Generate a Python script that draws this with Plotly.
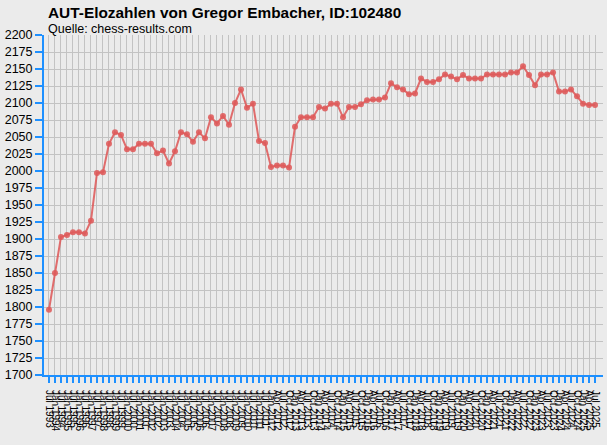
import plotly.graph_objects as go

months = ["Jan", "Apr", "Jul", "Oct"]
# Dates: semi-annual lists Jul 1993 .. Jul 2011, then quarterly Jan 2012 .. Jul 2025
dates = []
for y in range(1993, 2012):
    for m in ("Jan", "Jul"):
        if y == 1993 and m == "Jan":
            continue
        dates.append(f"{m} {y}")
for y in range(2012, 2026):
    for m in months:
        if y == 2025 and m == "Oct":
            continue
        dates.append(f"{m} {y}")

elo = [1796, 1850, 1903, 1906, 1910, 1910, 1908, 1927, 1997, 1998,
       2040, 2057, 2053, 2032, 2032, 2040, 2040, 2040, 2026, 2030,
       2011, 2029, 2057, 2054, 2043, 2057, 2048, 2079, 2070, 2081,
       2068, 2100, 2120, 2093, 2099, 2044, 2041, 2006, 2008, 2008,
       2005, 2065, 2079, 2079, 2079, 2094, 2092, 2099, 2099, 2079,
       2094, 2094, 2098, 2104, 2105, 2105, 2108, 2129, 2123, 2120,
       2113, 2114, 2136, 2131, 2131, 2135, 2142, 2139, 2135, 2141,
       2136, 2136, 2136, 2142, 2142, 2142, 2142, 2145, 2145, 2154,
       2141, 2126, 2142, 2142, 2145, 2117, 2117, 2120, 2110, 2099,
       2097, 2097]

title_text = "AUT-Elozahlen von Gregor Embacher, ID:102480"
subtitle_text = "Quelle: chess-results.com"
y_ticks = list(range(1700, 2201, 25))

idx = list(range(len(elo)))
BLUE = "#1E90FF"
BG = "#EBEBEB"
GRID = "#C3C3C3"
FONT = "Liberation Sans, Arial, sans-serif"

fig = go.Figure()
fig.add_trace(go.Scatter(
    x=idx, y=elo, mode="lines+markers",
    line=dict(color="rgba(222,90,90,0.88)", width=2),
    marker=dict(color="rgba(222,90,90,0.88)", size=6),
    hoverinfo="x+y", showlegend=False,
))

fig.update_layout(
    width=607, height=445,
    margin=dict(l=44, r=4, t=35, b=70, autoexpand=False),
    paper_bgcolor=BG, plot_bgcolor=BG,
    font=dict(family=FONT, color="black"),
    xaxis=dict(
        range=[-0.83, 92.33], automargin=False,
        tickmode="array", tickvals=idx, ticktext=dates,
        tickangle=90, tickfont=dict(size=10, family=FONT),
        ticklabelstandoff=5,
        showgrid=True, gridcolor=GRID, gridwidth=1,
        showline=True, linecolor=BLUE, linewidth=2,
        ticks="outside", ticklen=6, tickwidth=2, tickcolor=BLUE,
        zeroline=False, fixedrange=True,
    ),
    yaxis=dict(
        range=[1700, 2200], automargin=False,
        tickmode="array", tickvals=y_ticks,
        ticktext=[str(v) for v in y_ticks],
        tickfont=dict(size=12.5, family=FONT),
        showgrid=True, gridcolor=GRID, gridwidth=1,
        showline=True, linecolor=BLUE, linewidth=2,
        ticks="outside", ticklen=7, tickwidth=2, tickcolor=BLUE,
        zeroline=False, fixedrange=True,
    ),
    annotations=[
        dict(text="<b>" + title_text + "</b>", xref="paper", yref="paper",
             x=0.003, y=1, xanchor="left", yanchor="bottom", yshift=12,
             showarrow=False, font=dict(size=15.4, family=FONT, color="black")),
        dict(text=subtitle_text, xref="paper", yref="paper",
             x=0.003, y=1, xanchor="left", yanchor="bottom", yshift=-3,
             showarrow=False, font=dict(size=12.5, family=FONT, color="black")),
    ],
)

fig.write_html(
    "out.html",
    config={"displayModeBar": False},
    post_script="document.body.style.margin='0';document.body.style.overflow='hidden';",
)
